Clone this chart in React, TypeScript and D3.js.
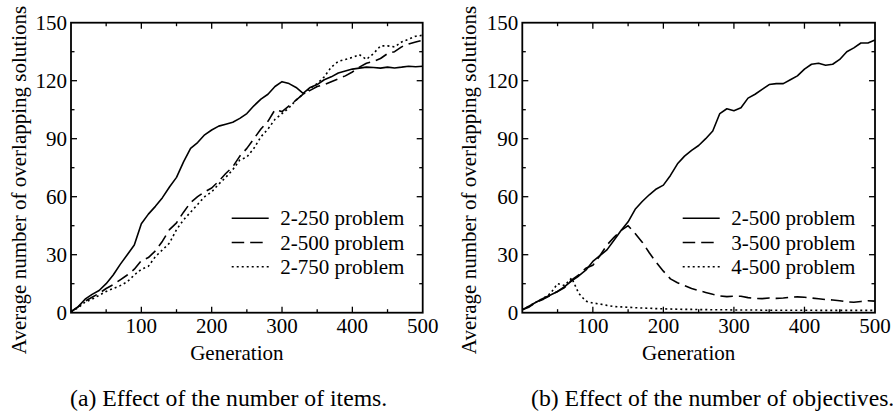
import React from "react";
import * as d3 from "d3";

const generations = d3.range(0, 501, 10);

// Panel (a)
const itemsSeries250 = [0.5, 3, 7, 9.5, 11.5, 15, 19.5, 25, 30, 35, 46, 51, 55, 59.5, 65, 70, 78, 85, 88, 92, 94.5, 96.5, 97.5, 98.5, 100.5, 103, 107, 110.5, 113, 117, 119.5, 118.5, 116.5, 113.5, 116.5, 118, 120.5, 122, 124, 125, 126, 126.5, 127, 126.8, 126.5, 127, 126.6, 127, 127.5, 127.2, 127.5];
const itemsSeries500 = [0.5, 3, 6, 8, 10, 12.5, 14.5, 17, 19.5, 22.5, 27, 28.5, 32, 37, 43, 46.5, 52, 57, 60, 62.5, 64.5, 68, 72, 75.5, 81, 85, 90, 95, 99, 105, 104, 107, 110, 113, 115, 117, 118, 119.5, 121, 122.5, 124.5, 127, 129, 130, 131.5, 134, 135, 137.5, 139, 140, 141];
const itemsSeries750 = [0.5, 2.5, 5.5, 7, 9, 11, 12.5, 14, 16, 19.5, 22.5, 24, 29, 32.5, 36, 43, 48, 52, 56, 60, 62.5, 66.5, 70, 74, 79, 80.5, 85, 91, 95, 100, 103, 106, 110, 113, 116, 118.5, 122, 127, 130, 131, 132, 133.5, 131, 134, 138, 138, 137.5, 140, 141.5, 143, 143.5];

// Panel (b)
const objSeries2 = [1.5, 3.5, 5.5, 7.5, 9.2, 11, 13.5, 16.5, 19, 22, 26.5, 29.5, 32.5, 37.5, 42.5, 47, 53.5, 57.5, 61, 64, 66, 71, 77, 81, 84, 86.5, 90, 94, 103, 105.5, 104.5, 106, 111, 113, 115.5, 118, 118.5, 118.5, 120.5, 122.5, 126, 128.5, 129, 128, 128.5, 131, 135, 137, 139.5, 139.5, 141];
const objSeries3 = [1.5, 3, 5.5, 7, 9, 11, 13, 17, 19.5, 23, 24.5, 29.5, 35, 39, 42.5, 45, 41, 36.5, 31, 26, 21.5, 17.5, 15.5, 14, 12.5, 11.5, 10.5, 9.5, 8.7, 8.3, 8.5, 8.5, 7.8, 7.4, 7.3, 7.6, 7.4, 7.6, 8, 8.2, 8, 7.6, 7.2, 6.8, 6.6, 6.2, 5.6, 5.4, 5.8, 6.2, 6];
const objSeries4 = [1.5, 3.5, 5.5, 7.5, 10, 15, 14, 18, 10, 6, 5, 4.5, 3.8, 3.2, 3, 2.8, 2.6, 2.4, 2.3, 2.1, 2, 1.9, 1.8, 1.7, 1.7, 1.6, 1.6, 1.5, 1.5, 1.5, 1.4, 1.4, 1.4, 1.4, 1.3, 1.3, 1.3, 1.3, 1.3, 1.3, 1.3, 1.3, 1.2, 1.2, 1.2, 1.2, 1.2, 1.2, 1.2, 1.2, 1.2];

const xTickLabels = [100, 200, 300, 400, 500];
const yTickLabels = [0, 30, 60, 90, 120, 150];

const legendA = ["2-250 problem", "2-500 problem", "2-750 problem"];
const legendB = ["2-500 problem", "3-500 problem", "4-500 problem"];
const captions = ["(a) Effect of the number of items.", "(b) Effect of the number of objectives."];

const dashes = [null, "12.5,6", "2,3"];
const FONT = '"Liberation Serif", "Times New Roman", Times, serif';

type PanelProps = {
  x0: number; x1: number; series: number[][]; legend: string[];
  labelX: number; legendX: number; caption: string; capX: number;
};

function Panel({ x0, x1, series, legend, labelX, legendX, caption, capX }: PanelProps) {
  const y0 = 22.7, y1 = 312.7;
  const x = d3.scaleLinear().domain([0, 500]).range([x0, x1]);
  const y = d3.scaleLinear().domain([0, 150]).range([y1, y0]);
  const line = d3.line<number>().x((_, i) => x(generations[i])).y((d) => y(d));
  const xMinor = d3.range(50, 500, 50);
  const yMinor = d3.range(15, 150, 15);
  const legendRows = [218.3, 242.5, 266.7];
  const ts = { fontFamily: FONT, fontSize: "21px" } as React.CSSProperties;
  const cs = { fontFamily: FONT, fontSize: "23.7px" } as React.CSSProperties;
  return (
    <g fill="#000">
      {series.map((s, i) => (
        <path key={i} d={line(s) || ""} fill="none" stroke="#000" strokeWidth={1.6}
          strokeDasharray={dashes[i] || undefined} strokeLinejoin="round" />
      ))}
      {xMinor.map((t) => {
        const len = t % 100 === 0 ? 6 : 3.5;
        return (
          <g key={"xt" + t}>
            <line x1={x(t)} x2={x(t)} y1={y1} y2={y1 - len} stroke="#000" strokeWidth={1.3} />
            <line x1={x(t)} x2={x(t)} y1={y0} y2={y0 + len} stroke="#000" strokeWidth={1.3} />
          </g>
        );
      })}
      {yMinor.map((t) => {
        const len = t % 30 === 0 ? 6 : 3.5;
        return (
          <g key={"yt" + t}>
            <line x1={x0} x2={x0 + len} y1={y(t)} y2={y(t)} stroke="#000" strokeWidth={1.3} />
            <line x1={x1} x2={x1 - len} y1={y(t)} y2={y(t)} stroke="#000" strokeWidth={1.3} />
          </g>
        );
      })}
      <rect x={x0} y={y0} width={x1 - x0} height={y1 - y0} fill="none" stroke="#000" strokeWidth={1.8} />
      {xTickLabels.map((t) => (
        <text key={"xl" + t} x={x(t)} y={333} textAnchor="middle" style={ts}>{t}</text>
      ))}
      {yTickLabels.map((t) => (
        <text key={"yl" + t} x={x0 - 4} y={y(t) + 7} textAnchor="end" style={ts}>{t}</text>
      ))}
      <text x={(x0 + x1) / 2 - 10} y={360} textAnchor="middle" style={ts}>Generation</text>
      <text transform={`translate(${labelX},180) rotate(-90)`} textAnchor="middle" style={ts}>
        Average number of overlapping solutions
      </text>
      {legend.map((l, i) => (
        <g key={"lg" + i}>
          <line x1={legendX} x2={legendX + 37} y1={legendRows[i]} y2={legendRows[i]} stroke="#000"
            strokeWidth={1.6} strokeDasharray={dashes[i] || undefined} />
          <text x={legendX + 48.5} y={legendRows[i] + 7} style={ts}>{l}</text>
        </g>
      ))}
      <text x={capX} y={406} style={cs}>{caption}</text>
    </g>
  );
}

export default function App() {
  return (
    <svg width={893} height={414} style={{ position: "absolute", left: 0, top: 0, background: "#fff" }}>
      <rect width={893} height={414} fill="#fff" />
      <Panel x0={71} x1={422.7} series={[itemsSeries250, itemsSeries500, itemsSeries750]} legend={legendA}
        labelX={26} legendX={231.7} caption={captions[0]} capX={70} />
      <Panel x0={522.3} x1={875} series={[objSeries2, objSeries3, objSeries4]} legend={legendB}
        labelX={476} legendX={682.7} caption={captions[1]} capX={531} />
    </svg>
  );
}
